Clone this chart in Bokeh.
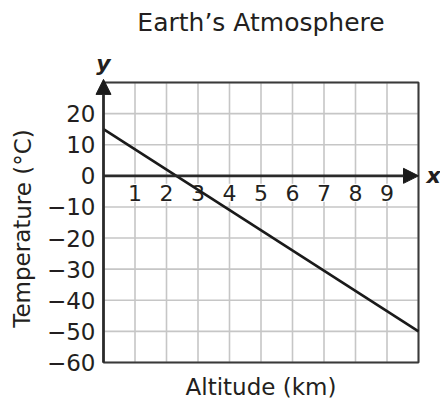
from bokeh.plotting import figure
from bokeh.models import Arrow, NormalHead, ColumnDataSource
from bokeh.embed import file_html
from bokeh.resources import INLINE
from bokeh.core.properties import value

# data
altitude = [0, 10]
temperature = [15, -50]
x_ticks = [1, 2, 3, 4, 5, 6, 7, 8, 9]
x_tick_labels = ["1", "2", "3", "4", "5", "6", "7", "8", "9"]
y_ticks = [-60, -50, -40, -30, -20, -10, 0, 10, 20]
y_tick_labels = ["\u221260", "\u221250", "\u221240", "\u221230", "\u221220", "\u221210", "0", "10", "20"]
x_grid = [0, 1, 2, 3, 4, 5, 6, 7, 8, 9, 10]
y_grid = [-60, -50, -40, -30, -20, -10, 0, 10, 20, 30]
x_min, x_max = 0, 10
y_min, y_max = -60, 30
title = "Earth\u2019s Atmosphere"
x_label = "Altitude (km)"
y_label = "Temperature (\u00b0C)"

FONT = value("DejaVu Sans")
TXT = "#231f20"

# canvas geometry (pixels) -> ranges so that the grid sits where it should
W, H = 440, 400
left_px, right_px, top_px, bottom_px = 103, 418, 82, 362
sx = (right_px - left_px) / (x_max - x_min)
sy = (bottom_px - top_px) / (y_max - y_min)
xr = (x_min - left_px / sx, x_max + (W - right_px) / sx)
yr = (y_min - (H - bottom_px) / sy, y_max + top_px / sy)

p = figure(width=W, height=H, x_range=xr, y_range=yr,
           output_backend="svg", toolbar_location=None,
           min_border=0, min_border_left=0, min_border_right=0,
           min_border_top=0, min_border_bottom=0)
p.axis.visible = False
p.grid.visible = False
p.outline_line_color = None
p.background_fill_color = "white"
p.border_fill_color = "white"

# grid
p.segment(x0=x_grid, y0=[y_min] * len(x_grid), x1=x_grid, y1=[y_max] * len(x_grid),
          line_color="#c6c6c6", line_width=1.6)
p.segment(x0=[x_min] * len(y_grid), y0=y_grid, x1=[x_max] * len(y_grid), y1=y_grid,
          line_color="#c6c6c6", line_width=1.6)
# frame
p.quad(left=[x_min], right=[x_max], bottom=[y_min], top=[y_max],
       fill_color=None, line_color="#3a3a3a", line_width=2)

# y tick labels
p.text(x=[x_min] * len(y_ticks), y=y_ticks, text=y_tick_labels, text_font=FONT,
       text_font_size="23px", text_color=TXT, text_align="right", text_baseline="middle",
       x_offset=-8)

# x tick labels along the x axis inside the grid
src = ColumnDataSource(dict(x=x_ticks, y=[0] * len(x_ticks), t=x_tick_labels))
p.text(x="x", y="y", text="t", source=src, text_font=FONT, text_font_size="22px",
       text_color=TXT, text_align="center", text_baseline="middle", y_offset=17,
       background_fill_color="white", padding=1)

# the temperature line
p.line(altitude, temperature, line_color="#1a1a1a", line_width=2.6)

# axes with arrows
p.add_layout(Arrow(x_start=x_min, y_start=0, x_end=x_max, y_end=0, line_color="#2a2a2a", line_width=2.6,
                   end=NormalHead(size=15, fill_color="#1a1a1a", line_color="#1a1a1a", line_width=1)))
p.add_layout(Arrow(x_start=0, y_start=y_min, x_end=0, y_end=y_max + 1, line_color="#2a2a2a", line_width=2.6,
                   end=NormalHead(size=15, fill_color="#1a1a1a", line_color="#1a1a1a", line_width=1)))

# axis letters
p.text(x=[0], y=[y_max], text=["y"], x_offset=0, y_offset=-19, text_align="center",
       text_baseline="middle", text_font=FONT, text_font_size="22px",
       text_font_style="bold italic", text_color=TXT)
p.text(x=[x_max], y=[0], text=["x"], x_offset=8, text_align="left",
       text_baseline="middle", text_font=FONT, text_font_size="22px",
       text_font_style="bold italic", text_color=TXT)

# title and axis titles
p.text(x=[(x_min + x_max) / 2], y=[y_max], text=[title], y_offset=-60, text_align="center",
       text_baseline="middle", text_font=FONT, text_font_size="25px", text_color=TXT)
p.text(x=[(x_min + x_max) / 2], y=[y_min], text=[x_label], y_offset=24, text_align="center",
       text_baseline="middle", text_font=FONT, text_font_size="23px", text_color=TXT)
p.text(x=[x_min], y=[(y_min + y_max) / 2], text=[y_label], x_offset=-81, y_offset=6,
       angle=1.5707963, text_align="center", text_baseline="middle",
       text_font=FONT, text_font_size="23px", text_color=TXT)

open("out.html", "w").write(file_html(p, INLINE))
